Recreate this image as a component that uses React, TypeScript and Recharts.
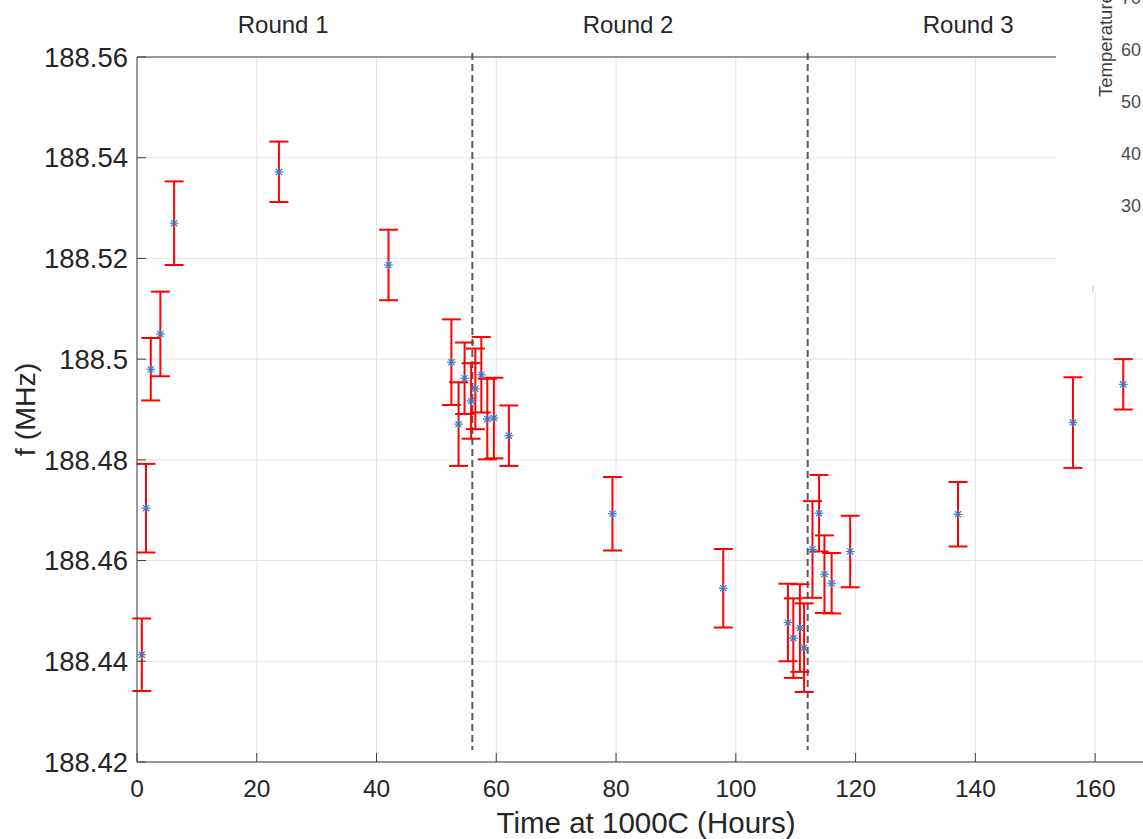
import React from 'react';
import {
  ScatterChart,
  Scatter,
  XAxis,
  YAxis,
  CartesianGrid,
  ErrorBar,
  ReferenceLine,
  ReferenceDot,
} from 'recharts';

// ---- data ----
const hours = [0.8, 1.5, 2.3, 3.9, 6.2, 23.7, 42.0, 52.5, 53.7, 54.7, 55.8, 56.5, 57.5, 58.5, 59.6, 62.1, 79.4, 97.9, 108.7, 109.6, 110.7, 111.4, 112.8, 113.9, 114.8, 116.0, 119.1, 137.1, 156.3, 164.7];
const freqs = [188.4413, 188.4704, 188.498, 188.505, 188.527, 188.5372, 188.5187, 188.4994, 188.4871, 188.4962, 188.4917, 188.4941, 188.4969, 188.4881, 188.4883, 188.4848, 188.4693, 188.4545, 188.4477, 188.4446, 188.4466, 188.4427, 188.4622, 188.4694, 188.4573, 188.4555, 188.4618, 188.4692, 188.4874, 188.495];
const errors = [0.0072, 0.0088, 0.0062, 0.0084, 0.0083, 0.006, 0.007, 0.0085, 0.0083, 0.0071, 0.0075, 0.008, 0.0075, 0.008, 0.008, 0.006, 0.0073, 0.0078, 0.0077, 0.0079, 0.0087, 0.0088, 0.0096, 0.0076, 0.0077, 0.006, 0.0071, 0.0064, 0.009, 0.005];

const xTicks = [0, 20, 40, 60, 80, 100, 120, 140, 160];
const yTicks = [188.42, 188.44, 188.46, 188.48, 188.5, 188.52, 188.54, 188.56];
const roundBoundaries = [56, 112];
const roundLabels = ['Round 1', 'Round 2', 'Round 3'];
const roundLabelHours = [24.4, 82.0, 138.8];
const insetTicks = ['70', '60', '50', '40', '30'];

const points = hours.map((h, i) => ({ x: h, y: freqs[i], err: errors[i] }));

const FONT = '"Liberation Sans", Arial, Helvetica, sans-serif';
const TEXT = '#262626';

const Asterisk = (props: any) => {
  const { cx, cy } = props;
  if (cx == null || cy == null) return null;
  const r = 4.3;
  const d = r * 0.72;
  return (
    <g stroke="#3f78c2" strokeWidth={1.2}>
      <line x1={cx - r} y1={cy} x2={cx + r} y2={cy} />
      <line x1={cx} y1={cy - r} x2={cx} y2={cy + r} />
      <line x1={cx - d} y1={cy - d} x2={cx + d} y2={cy + d} />
      <line x1={cx - d} y1={cy + d} x2={cx + d} y2={cy - d} />
    </g>
  );
};

export default function App() {
  return (
    <div
      style={{
        position: 'absolute',
        left: 0,
        top: 0,
        width: 1143,
        height: 839,
        overflow: 'hidden',
        background: '#fff',
        fontFamily: FONT,
      }}
    >
      <ScatterChart
        width={1160}
        height={839}
        margin={{ top: 56, right: 5, bottom: 0, left: 0 }}
      >
        <CartesianGrid stroke="#e2e2e2" strokeWidth={1} />
        <XAxis
          type="number"
          dataKey="x"
          domain={[0, 170]}
          ticks={xTicks}
          allowDataOverflow
          height={77}
          stroke="#404040"
          tickSize={-9}
          tickMargin={27}
          tick={{ fill: TEXT, fontSize: 24.5, fontFamily: FONT }}
          label={{
            value: 'Time at 1000C (Hours)',
            position: 'insideBottom',
            offset: 6,
            fill: TEXT,
            fontSize: 29.5,
            fontFamily: FONT,
          }}
        />
        <XAxis
          xAxisId="top"
          orientation="top"
          type="number"
          dataKey="x"
          domain={[0, 170]}
          ticks={xTicks}
          allowDataOverflow
          height={1}
          stroke="#404040"
          tickSize={-9}
          tick={false}
        />
        <YAxis
          type="number"
          dataKey="y"
          domain={[188.42, 188.56]}
          ticks={yTicks}
          allowDataOverflow
          width={137}
          stroke="#404040"
          tickSize={-9}
          tickMargin={18}
          tickFormatter={(v: number) => String(Number(v.toFixed(2)))}
          tick={{ fill: TEXT, fontSize: 27.5, fontFamily: FONT }}
          label={{
            value: 'f (MHz)',
            angle: -90,
            position: 'insideLeft',
            offset: 25,
            fill: TEXT,
            fontSize: 28.5,
            fontFamily: FONT,
            style: { textAnchor: 'middle' },
          }}
        />
        {roundBoundaries.map((b) => (
          <ReferenceLine
            key={b}
            segment={[
              { x: b, y: 188.5608 },
              { x: b, y: 188.4224 },
            ]}
            stroke="#5a5a5a"
            strokeWidth={2}
            strokeDasharray="7 4"
            ifOverflow="visible"
          />
        ))}
        {roundLabels.map((t, i) => (
          <ReferenceDot
            key={t}
            x={roundLabelHours[i]}
            y={188.56}
            r={0}
            fill="none"
            stroke="none"
            ifOverflow="visible"
            label={{
              value: t,
              position: 'top',
              offset: 24,
              fill: TEXT,
              fontSize: 24,
              fontFamily: FONT,
            }}
          />
        ))}
        <Scatter
          data={points}
          dataKey="y"
          shape={<Asterisk />}
          isAnimationActive={false}
        >
          <ErrorBar
            dataKey="err"
            direction="y"
            width={9.5}
            stroke="#ff0000"
            strokeWidth={2}
            isAnimationActive={false}
          />
        </Scatter>
      </ScatterChart>

      {/* partially visible inset (cropped) in the upper right corner */}
      <div
        style={{
          position: 'absolute',
          left: 1056,
          top: 0,
          width: 87,
          height: 292,
          background: '#fff',
          overflow: 'hidden',
        }}
      >
        <svg width={87} height={292}>
          <text
            x={0}
            y={0}
            fill="#404040"
            fontSize={18.5}
            fontFamily={FONT}
            style={{ transform: 'translate(49px, 97px) rotate(-90deg)' }}
            dominantBaseline="central"
          >
            Temperature (°C)
          </text>
          {insetTicks.map((t, i) => (
            <text
              key={t}
              x={65}
              y={-2 + i * 52}
              fill="#4a4a4a"
              fontSize={18}
              fontFamily={FONT}
              dominantBaseline="central"
            >
              {t}
            </text>
          ))}
          <line x1={37} y1={286} x2={37} y2={292} stroke="#bbb" strokeWidth={1} />
        </svg>
      </div>
    </div>
  );
}
